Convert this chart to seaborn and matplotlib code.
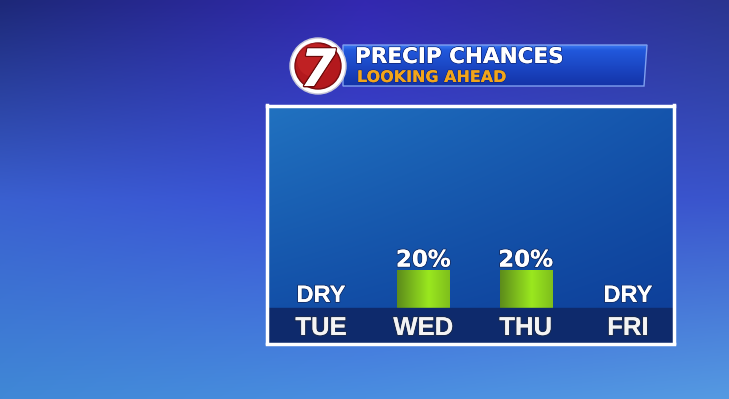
import numpy as np
import matplotlib
matplotlib.use("Agg")
import matplotlib.pyplot as plt
import seaborn as sns
from matplotlib.colors import to_rgb, LinearSegmentedColormap
from matplotlib.patches import Circle, Polygon
import matplotlib.patheffects as pe

# ---- data ----
days = ["TUE", "WED", "THU", "FRI"]
chances = [0, 20, 20, 0]
value_labels = ["DRY", "20%", "20%", "DRY"]
title = "PRECIP CHANCES"
subtitle = "LOOKING AHEAD"
logo_text = "7"

W, H = 729, 399
sns.set_theme(style="white")
plt.rcParams["font.family"] = ["DejaVu Sans"]

fig = plt.figure(figsize=(W / 100, H / 100), dpi=100)


def fx(x):
    return x / W


def fy(y):
    return 1 - y / H


# ---- background ----
bg = fig.add_axes([0, 0, 1, 1], zorder=0)
bg.set_axis_off()
grid = [["#1d2878", "#3328b0", "#2b3590"],
        ["#3a60d0", "#3b50d8", "#3a55cc"],
        ["#4088d6", "#4a8ee0", "#559ae2"]]
g = np.array([[to_rgb(c) for c in row] for row in grid])
ny, nx = 200, 365
yy = np.linspace(0, 2, ny)
xx = np.linspace(0, 2, nx)
img = np.zeros((ny, nx, 3))
for i, yv in enumerate(yy):
    r0 = int(min(yv, 1.999))
    ty = yv - r0
    row = g[r0] * (1 - ty) + g[r0 + 1] * ty
    for k in range(3):
        img[i, :, k] = np.interp(xx, [0, 1, 2], row[:, k])
bg.imshow(img, extent=[0, 1, 0, 1], aspect="auto", interpolation="bicubic", transform=bg.transAxes)
bg.set_xlim(0, 1)
bg.set_ylim(0, 1)

# ---- main panel ----
x0, x1, y0, y1 = 266.5, 673.5, 105.5, 343.5
ax = fig.add_axes([fx(x0), fy(y1), fx(x1 - x0), (y1 - y0) / H], zorder=2)
ymin, ymax = -18.7, 106.6
xmin, xmax = -0.533, 3.445

# panel gradient
pg = np.array([[to_rgb("#2172c0"), to_rgb("#1555ad")],
               [to_rgb("#1350a8"), to_rgb("#0e409a")]])
n = 100
t = np.linspace(0, 1, n)
pimg = np.zeros((n, n, 3))
for i in range(n):
    for k in range(3):
        top = pg[0, 0, k] * (1 - t) + pg[0, 1, k] * t
        bot = pg[1, 0, k] * (1 - t) + pg[1, 1, k] * t
        pimg[i, :, k] = top * (1 - t[i]) + bot * t[i]
ax.imshow(pimg, extent=[xmin, xmax, 0, ymax], aspect="auto", zorder=0, interpolation="bilinear")

sns.barplot(x=days, y=chances, ax=ax, width=0.51, color="#8fdc1e",
            edgecolor="#7a8a6a", linewidth=0.6, zorder=3)

# bar gradients
gcmap = LinearSegmentedColormap.from_list("g", [(0, "#5d8c1b"), (0.6, "#9ae81f"), (1, "#7fbf1c")])
for p in ax.patches:
    if p.get_height() > 0:
        bx, bw, bh = p.get_x(), p.get_width(), p.get_height()
        im = ax.imshow(np.linspace(0, 1, 64)[None, :], cmap=gcmap, aspect="auto",
                       extent=[bx, bx + bw, 0, bh], zorder=4, interpolation="bilinear")
        im.set_clip_path(p)

ax.axhspan(ymin, 0, color="#0e2a6c", zorder=5)

ax.set_xlim(xmin, xmax)
ax.set_ylim(ymin, ymax)
ax.set_xticks([])
ax.set_yticks([])
ax.set_xlabel("")
ax.set_ylabel("")
for s in ax.spines.values():
    s.set_visible(True)
    s.set_color("white")
    s.set_linewidth(2.5)
    s.set_zorder(10)

for i, (d, v, lab) in enumerate(zip(days, chances, value_labels)):
    ax.text(i, -14.2, d, ha="center", va="baseline", color="#f4f4f4",
            fontsize=18.5, fontweight="bold", family=["Liberation Sans", "DejaVu Sans"],
            zorder=6, path_effects=[pe.withStroke(linewidth=1.8, foreground="#1a2a50"), pe.Normal()])
    if v > 0:
        ax.text(i, v + 1.8, lab, ha="center", va="baseline", color="white",
                fontsize=16.5, fontweight="bold", family=["DejaVu Sans"], zorder=6,
                path_effects=[pe.withStroke(linewidth=1.4, foreground="#15306a"), pe.Normal()])
    else:
        ax.text(i, 3.2, lab, ha="center", va="baseline", color="white",
                fontsize=17, fontweight="bold", family=["Liberation Sans", "DejaVu Sans"], zorder=6,
                path_effects=[pe.withStroke(linewidth=1.4, foreground="#15306a"), pe.Normal()])

# ---- header banner ----
hb = fig.add_axes([0, 0, 1, 1], zorder=3)
hb.set_axis_off()
hb.set_xlim(0, W)
hb.set_ylim(H, 0)
bcmap = LinearSegmentedColormap.from_list("b", [(0, "#3a78f0"), (0.12, "#2158dc"), (1, "#1433a8")])
banner = Polygon([(343, 45), (647, 45), (644, 86), (343, 86)], closed=True,
                 facecolor="none", edgecolor="#7fa0f0", lw=1.0)
hb.add_patch(banner)
bim = hb.imshow(np.linspace(0, 1, 64)[:, None], cmap=bcmap, aspect="auto",
                extent=[343, 647, 86, 45], interpolation="bilinear")
bim.set_clip_path(banner)
hb.set_xlim(0, W)
hb.set_ylim(H, 0)

fig.text(fx(355), fy(63), title, color="white", fontsize=15.5, fontweight="bold",
         ha="left", va="baseline", zorder=6,
         path_effects=[pe.withStroke(linewidth=1.2, foreground="#102a80"), pe.Normal()])
fig.text(fx(357), fy(82), subtitle, color="#f2a51a", fontsize=11.5, fontweight="bold",
         ha="left", va="baseline", zorder=6,
         path_effects=[pe.withStroke(linewidth=1.0, foreground="#102a80"), pe.Normal()])

# ---- logo ----
la = fig.add_axes([0, 0, 1, 1], zorder=4)
la.set_axis_off()
la.set_xlim(0, W)
la.set_ylim(H, 0)
la.add_patch(Circle((318, 66), 28, facecolor="white", edgecolor="#c8c8d8", lw=1))
la.add_patch(Circle((318, 66), 23, facecolor="#b3191d", edgecolor="#7a0c10", lw=1))
la.add_patch(Circle((314, 60), 17, facecolor="#cc2a2a", edgecolor="none", alpha=0.5))
la.text(318, 86, logo_text, color="white", fontsize=37, fontweight="bold", style="italic",
        ha="center", va="baseline",
        path_effects=[pe.withStroke(linewidth=2, foreground="#6a0a0a"), pe.Normal()])

fig.savefig("out.png", dpi=100)
